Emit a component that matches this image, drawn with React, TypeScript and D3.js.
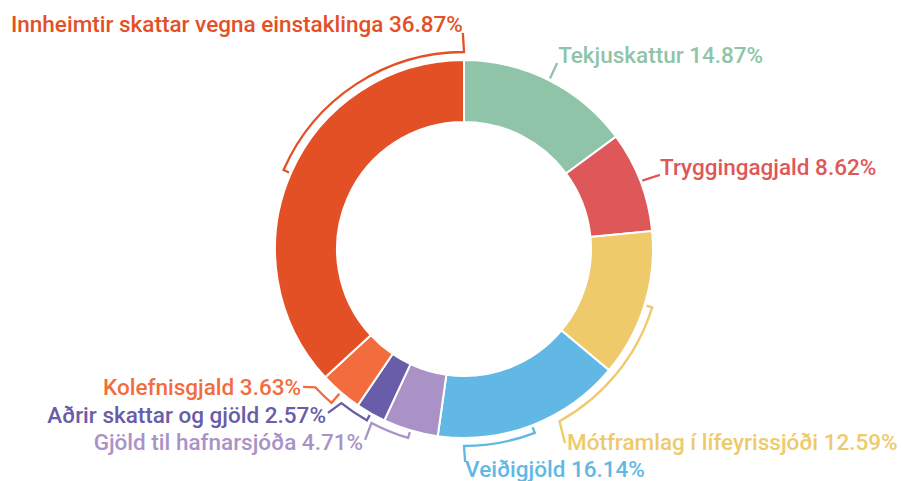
import React from "react";
import * as d3 from "d3";

// slice data (clockwise from top)
const categories = [
  "Tekjuskattur",
  "Tryggingagjald",
  "Mótframlag í lífeyrissjóði",
  "Veiðigjöld",
  "Gjöld til hafnarsjóða",
  "Aðrir skattar og gjöld",
  "Kolefnisgjald",
  "Innheimtir skattar vegna einstaklinga",
];
const shares = [14.87, 8.62, 12.59, 16.14, 4.71, 2.57, 3.63, 36.87];
const colors = [
  "#8fc4a9",
  "#de5759",
  "#eeca6a",
  "#61b8e4",
  "#aa92c6",
  "#695ca8",
  "#f36c3e",
  "#e45026",
];

// label layout: angle (deg) the guide arc runs to, end point in polar coords, text offset
const labelLayout = [
  { arcTo: null, endA: 26.6, endR: 208, dx: 1, dy: 0, side: "start" },
  { arcTo: null, endA: 69.3, endR: 209.5, dx: 0, dy: 0, side: "start" },
  { arcTo: 151, endA: 152.5, endR: 218.7, dx: 2, dy: 7, side: "start" },
  { arcTo: 180, endA: 179.7, endR: 213, dx: 0, dy: 15, side: "start" },
  { arcTo: 208, endA: 207.4, endR: 215, dx: -2, dy: 10, side: "end" },
  { arcTo: 218.5, endA: 219.7, endR: 213, dx: -2, dy: 10, side: "end" },
  { arcTo: 227, endA: 229.4, endR: 212, dx: -2, dy: 8, side: "end" },
  { arcTo: 360, endA: 359.7, endR: 216, dx: 0, dy: -1, side: "end" },
];

const width = 902;
const height = 481;
const cx = 464;
const cy = 249;
const outerR = 189;
const innerR = 127;
const guideR = 197;

const rad = (deg: number) => (deg * Math.PI) / 180;
const polar = (r: number, a: number) => [r * Math.sin(a), -r * Math.cos(a)];

export default function App() {
  const pie = d3
    .pie<number>()
    .sort(null)
    .value((d) => d);
  const arcs = pie(shares);
  const arc = d3
    .arc<d3.PieArcDatum<number>>()
    .innerRadius(innerR)
    .outerRadius(outerR);

  return (
    <svg
      width={width}
      height={height}
      style={{ position: "absolute", left: 0, top: 0 }}
    >
      <g transform={`translate(${cx},${cy})`}>
        {arcs.map((a, i) => (
          <path
            key={categories[i]}
            d={arc(a) || ""}
            fill={colors[i]}
            stroke="#fff"
            strokeWidth={2}
          />
        ))}
        {arcs.map((a, i) => {
          const lay = labelLayout[i];
          const mid = (a.startAngle + a.endAngle) / 2;
          const p = d3.path();
          const [x0, y0] = polar(outerR + 2, mid);
          p.moveTo(x0, y0);
          const gR = i === 6 ? 203 : guideR;
          if (lay.arcTo !== null) {
            const [x1, y1] = polar(gR, mid);
            p.lineTo(x1, y1);
            const to = rad(lay.arcTo);
            // d3 path arc uses angles from +x axis
            p.arc(0, 0, gR, mid - Math.PI / 2, to - Math.PI / 2, to < mid);
          }
          const [ex, ey] = polar(lay.endR, rad(lay.endA));
          p.lineTo(ex, ey);
          return (
            <g key={"lbl" + i}>
              <path
                d={p.toString()}
                fill="none"
                stroke={colors[i]}
                strokeWidth={2.3}
              />
              <text
                x={ex + lay.dx}
                y={ey + lay.dy}
                textAnchor={lay.side}
                fill={colors[i]}
                style={{ font: "500 22.5px Roboto" }}
              >
                {`${categories[i]} ${shares[i].toFixed(2)}%`}
              </text>
            </g>
          );
        })}
      </g>
    </svg>
  );
}
